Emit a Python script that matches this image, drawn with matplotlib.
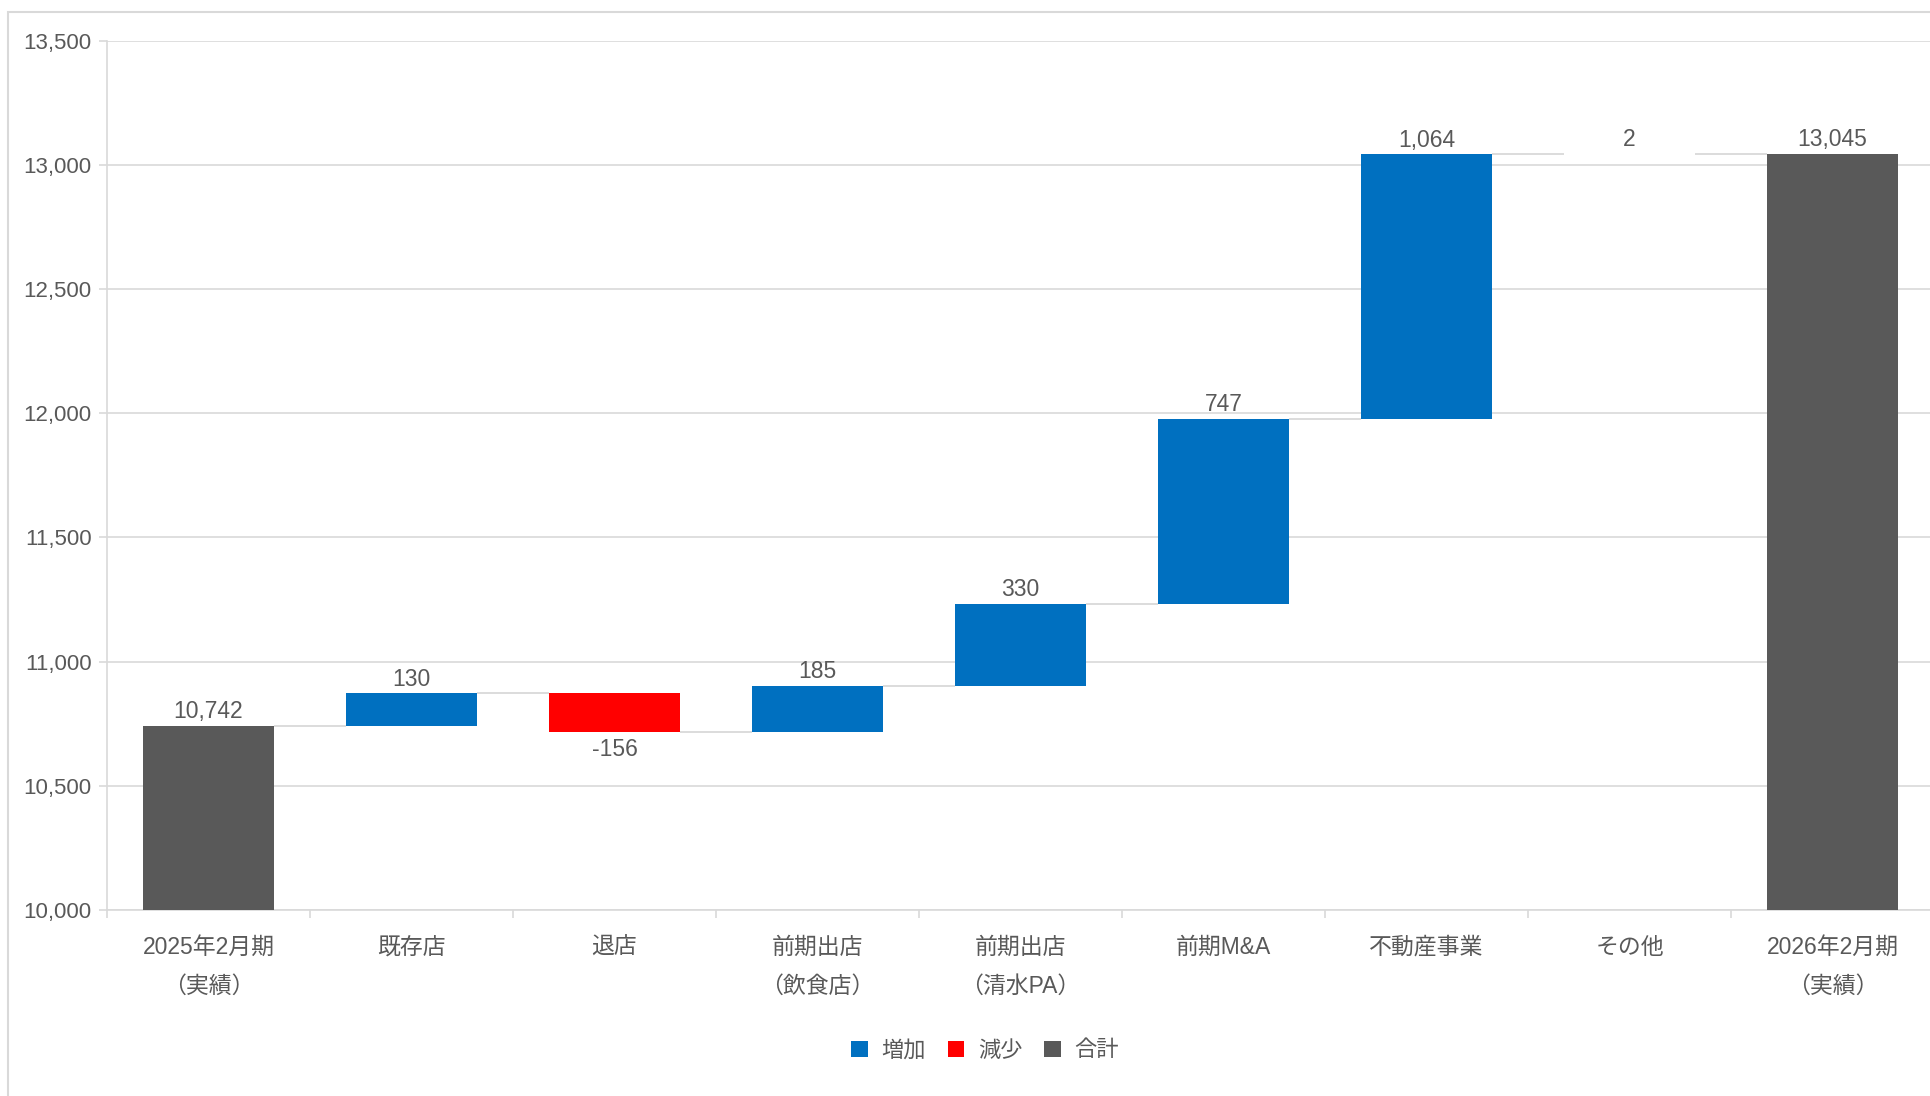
import numpy as np
import matplotlib
matplotlib.use("Agg")
import matplotlib.pyplot as plt
from matplotlib.patches import Patch, Rectangle
from matplotlib.ticker import FuncFormatter, MultipleLocator

plt.rcParams['font.family'] = ['Liberation Sans', 'Noto Sans CJK JP', 'DejaVu Sans']

categories = ['2025年2月期\n（実績）', '既存店', '退店', '前期出店\n（飲食店）', '前期出店\n（清水PA）',
              '前期M&A', '不動産事業', 'その他', '2026年2月期\n（実績）']
values = [10742, 130, -156, 185, 330, 747, 1064, 2, 13045]
kinds = ['total', 'inc', 'dec', 'inc', 'inc', 'inc', 'inc', 'inc', 'total']
legend_labels = ['増加', '減少', '合計']

colors = {'inc': '#0070C0', 'dec': '#FF0000', 'total': '#595959'}
text_color = '#595959'
grid_color = '#D9D9D9'

W, H = 1930, 1096
fig = plt.figure(figsize=(W / 100, H / 100), dpi=100)
left = 107 / W
bottom = (H - 910) / H
top = (H - 40.7) / H
ax = fig.add_axes([left, bottom, 1827 / W, top - bottom])

bw = 0.65
bottoms, heights, levels = [], [], []
level = 0
for v, k in zip(values, kinds):
    if k == 'total':
        b, h = 0, v
        level = v
    else:
        b = level if v > 0 else level + v
        h = abs(v)
        level = level + v
    bottoms.append(b)
    heights.append(h)
    levels.append(level)

x = np.arange(len(values))
ax.bar(x, heights, bottom=bottoms, width=bw, color=[colors[k] for k in kinds], zorder=3)

# connectors
for i in range(len(values) - 1):
    ax.plot([x[i] + bw / 2, x[i + 1] - bw / 2], [levels[i], levels[i]], color=grid_color,
            lw=1.3, zorder=2, solid_capstyle='butt')

# labels
fs = 16.5
for i, (v, k) in enumerate(zip(values, kinds)):
    txt = f"{v:,}"
    if k == 'dec':
        ax.annotate(txt, (x[i], bottoms[i]), xytext=(0, -4), textcoords='offset points',
                    ha='center', va='top', fontsize=fs, color=text_color)
    else:
        ax.annotate(txt, (x[i], bottoms[i] + heights[i]), xytext=(0, 2), textcoords='offset points',
                    ha='center', va='bottom', fontsize=fs, color=text_color)

ax.set_xlim(-0.5, len(values) - 0.5)
ax.set_ylim(10000, 13500)
ax.yaxis.set_major_locator(MultipleLocator(500))
ax.yaxis.set_major_formatter(FuncFormatter(lambda v, p: f"{int(v):,}"))
ax.grid(axis='y', color=grid_color, lw=1.2, zorder=0)
ax.set_axisbelow(True)

ax.set_xticks(x)
ax.set_xticklabels(categories, fontsize=16.5, color=text_color, linespacing=1.9)
ax.tick_params(axis='x', length=0, pad=18.5)
ax.set_xticks(np.arange(len(values) + 1) - 0.5, minor=True)
ax.tick_params(axis='x', which='minor', length=6, color=grid_color, width=1.2)
ax.tick_params(axis='y', labelsize=16, labelcolor=text_color, length=6, color=grid_color, width=1.2, pad=5)

for s in ['top', 'right']:
    ax.spines[s].set_visible(False)
for s in ['left', 'bottom']:
    ax.spines[s].set_color(grid_color)
    ax.spines[s].set_linewidth(1.2)

handles = [Patch(facecolor=colors[k]) for k in ['inc', 'dec', 'total']]
fig.legend(handles, legend_labels, loc='center', bbox_to_anchor=(985 / W, 1 - 1051 / H),
           ncol=3, frameon=False, fontsize=16, handlelength=0.75, handleheight=0.75,
           handletextpad=0.6, columnspacing=1.0, labelcolor=text_color)

fig.add_artist(Rectangle((8 / W, -0.5), 2, 1.5 - 12 / H, transform=fig.transFigure,
                         facecolor='none', edgecolor=grid_color, lw=1.5))

fig.savefig('out.png', dpi=100, facecolor='white')
